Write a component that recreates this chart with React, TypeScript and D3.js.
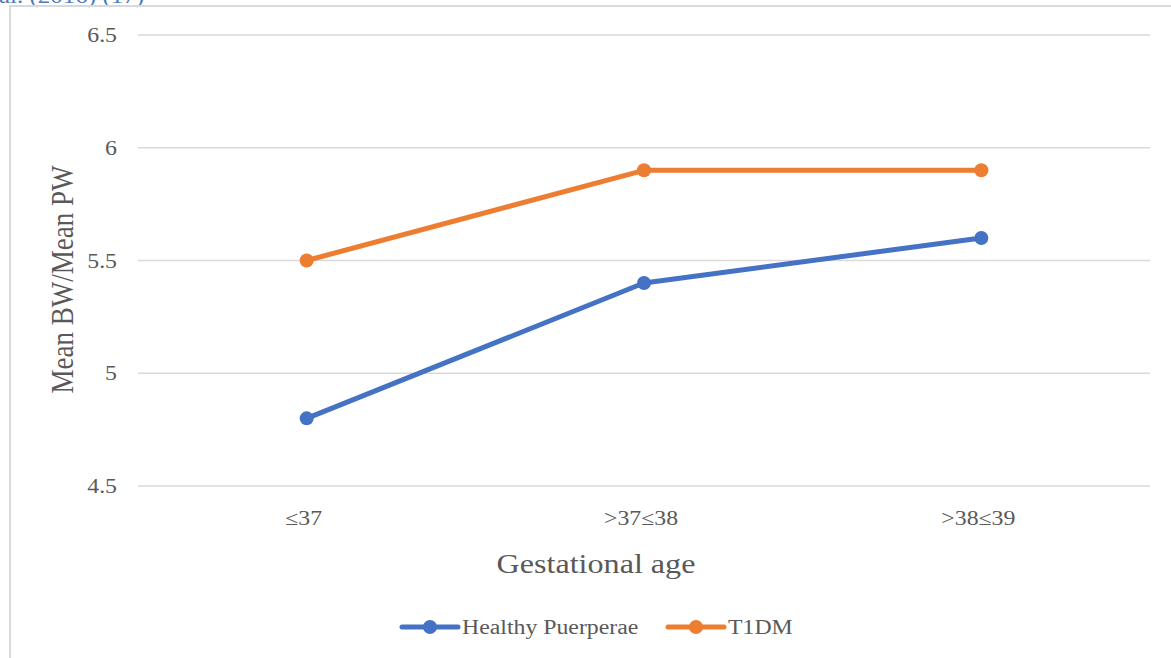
import React from "react";
import * as d3 from "d3";

const categories = ["≤37", ">37≤38", ">38≤39"];
const healthy = [4.8, 5.4, 5.6];
const t1dm = [5.5, 5.9, 5.9];
const yTicks = [4.5, 5, 5.5, 6, 6.5];
const seriesNames = ["Healthy Puerperae", "T1DM"];
const colors = ["#4472c4", "#ed7d31"];

const W = 1171;
const H = 658;
const plot = { left: 138, right: 1150, top: 35, bottom: 486 };
const serif = "'Liberation Serif', 'Times New Roman', serif";
// horizontal widening applied to the chart's text glyphs
const SX = 1.19;

type LabelProps = {
  x: number;
  y: number;
  size: number;
  anchor?: "start" | "middle" | "end";
  fill?: string;
  dy?: string;
  children: React.ReactNode;
};

function Label({ x, y, size, anchor = "start", fill = "#595959", dy, children }: LabelProps) {
  return (
    <text
      transform={`translate(${x},${y}) scale(${SX},1)`}
      textAnchor={anchor}
      dy={dy}
      fontFamily={serif}
      fontSize={size}
      fill={fill}
    >
      {children}
    </text>
  );
}

export default function App() {
  const x = d3
    .scaleBand<string>()
    .domain(categories)
    .range([plot.left, plot.right]);
  const y = d3.scaleLinear().domain([4.5, 6.5]).range([plot.bottom, plot.top]);
  const cx = (c: string) => (x(c) ?? 0) + x.bandwidth() / 2;
  const line = d3
    .line<number>()
    .x((_, i) => cx(categories[i]))
    .y((d) => y(d));

  const series = [healthy, t1dm];

  return (
    <svg
      width={W}
      height={H}
      style={{ position: "fixed", left: 0, top: 0, background: "#fff" }}
    >
      <rect x={0} y={0} width={W} height={H} fill="#fff" />
      <Label x={-1} y={3} size={21} fill="#4a7ab8">
        al. (2016) (17)
      </Label>
      <rect
        x={10}
        y={6}
        width={W + 20}
        height={H + 20}
        fill="none"
        stroke="#d9d9d9"
        strokeWidth={2}
      />
      {yTicks.map((t) => (
        <g key={t}>
          <line
            x1={plot.left}
            x2={plot.right}
            y1={y(t)}
            y2={y(t)}
            stroke="#d9d9d9"
            strokeWidth={1.5}
          />
          <Label x={117} y={y(t)} dy="0.35em" anchor="end" size={20}>
            {String(t)}
          </Label>
        </g>
      ))}
      {categories.map((c) => (
        <Label key={c} x={cx(c) - 3} y={525} anchor="middle" size={20}>
          {c}
        </Label>
      ))}
      <text
        transform={`translate(73,${(plot.top + plot.bottom) / 2 + 19}) rotate(-90) scale(1,${SX})`}
        textAnchor="middle"
        fontFamily={serif}
        fontSize={27}
        fill="#595959"
      >
        Mean BW/Mean PW
      </text>
      <Label x={596} y={573} anchor="middle" size={27}>
        Gestational age
      </Label>
      {series.map((s, si) => (
        <g key={si}>
          <path
            d={line(s) ?? ""}
            fill="none"
            stroke={colors[si]}
            strokeWidth={5}
            strokeLinecap="round"
            strokeLinejoin="round"
          />
          {s.map((v, i) => (
            <circle
              key={i}
              cx={cx(categories[i])}
              cy={y(v)}
              r={7}
              fill={colors[si]}
            />
          ))}
        </g>
      ))}
      {seriesNames.map((n, i) => {
        const lx = i === 0 ? 402 : 668;
        return (
          <g key={n}>
            <line
              x1={lx}
              x2={lx + 56}
              y1={627}
              y2={627}
              stroke={colors[i]}
              strokeWidth={5}
              strokeLinecap="round"
            />
            <circle cx={lx + 28} cy={627} r={7} fill={colors[i]} />
            <Label x={lx + 60} y={627} dy="0.35em" size={20}>
              {n}
            </Label>
          </g>
        );
      })}
    </svg>
  );
}
